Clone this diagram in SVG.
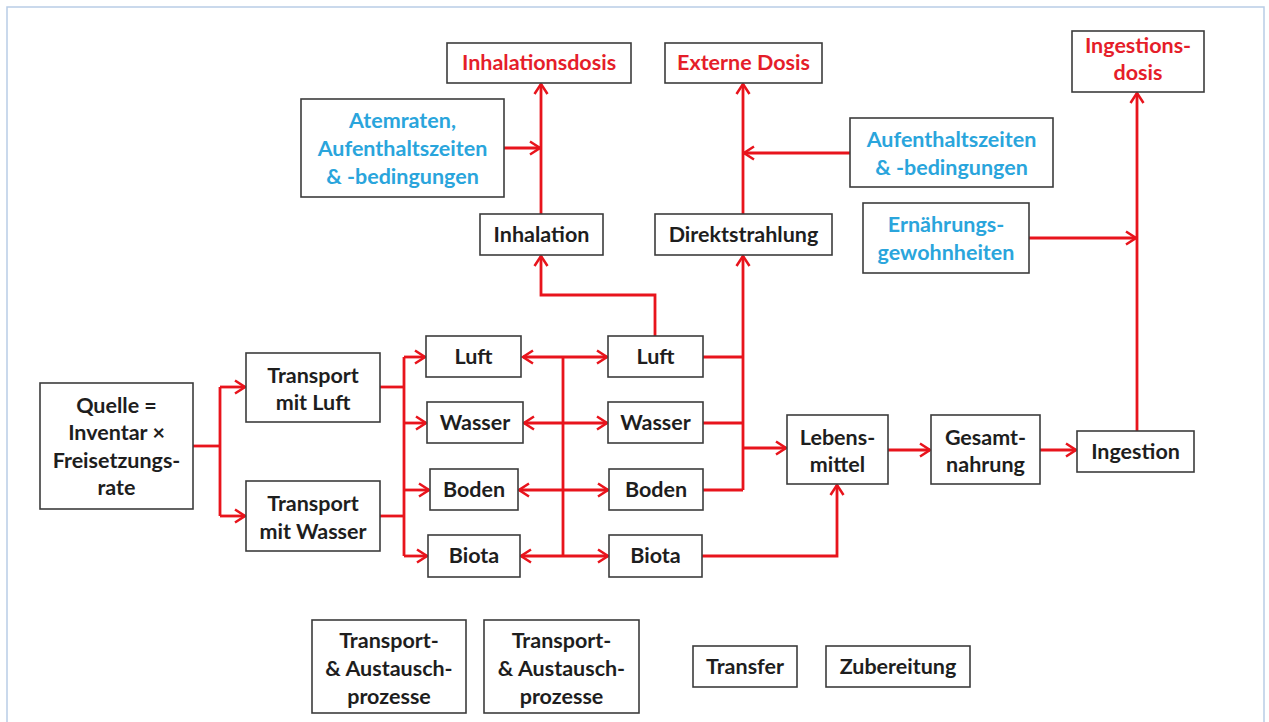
<svg xmlns="http://www.w3.org/2000/svg" width="1269" height="722" viewBox="0 0 1269 722">
<defs>
<marker id="ah" markerUnits="userSpaceOnUse" viewBox="-12 -8 14 16" refX="0" refY="0" markerWidth="14" markerHeight="16" orient="auto">
<path d="M-10,-6.5 L0,0 L-10,6.5" fill="none" stroke="#e8141c" stroke-width="2.5" stroke-linejoin="miter"/>
</marker>
</defs>
<style>
.box{fill:#fff;stroke:#3c3c3c;stroke-width:1.6}
.t{font-family:Lato,"Liberation Sans",sans-serif;font-weight:bold;font-size:21.5px;text-anchor:middle;fill:#1e1e1e}
.red{fill:#e51e2a}
.blue{fill:#2aa5dc}
.c{fill:none;stroke:#e8141c;stroke-width:2.8}
.a{marker-end:url(#ah)}
</style>
<rect x="0" y="0" width="1269" height="722" fill="#fff"/>
<rect x="7" y="7" width="1257" height="730" fill="none" stroke="#b9cde6" stroke-width="1.5"/>

<g id="connectors">
<path class="c" d="M193,446 H220" stroke-width="3.4"/>
<path class="c" d="M220,387 V516"/>
<path class="c a" d="M220,387 H245"/>
<path class="c a" d="M220,516 H245"/>
<path class="c" d="M380,387 H404"/>
<path class="c" d="M380,516 H404"/>
<path class="c" d="M404,357 V556"/>
<path class="c a" d="M404,357 H425"/>
<path class="c a" d="M404,423 H426"/>
<path class="c a" d="M404,490 H429"/>
<path class="c a" d="M404,556 H427"/>
<path class="c" d="M563,357 V556"/>
<path class="c a" d="M563,357 H523"/>
<path class="c a" d="M563,357 H607"/>
<path class="c a" d="M563,423 H524"/>
<path class="c a" d="M563,423 H607"/>
<path class="c a" d="M563,490 H519" stroke-width="3.4"/>
<path class="c a" d="M563,490 H608"/>
<path class="c a" d="M563,556 H521"/>
<path class="c a" d="M563,556 H608"/>
<path class="c" d="M703,357 H743"/>
<path class="c" d="M703,423 H743"/>
<path class="c" d="M703,490 H743" stroke-width="3.2"/>
<path class="c a" d="M743,490 V256"/>
<path class="c a" d="M743,448 H786" stroke-width="3.2"/>
<path class="c a" d="M655,336 V295 H541 V256"/>
<path class="c a" d="M541,214 V84"/>
<path class="c a" d="M504,148 H540"/>
<path class="c a" d="M743,214 V84"/>
<path class="c a" d="M850,153 H744"/>
<path class="c a" d="M702,556 H837 V485"/>
<path class="c a" d="M888,450 H930" stroke-width="3.2"/>
<path class="c a" d="M1040,450 H1076"/>
<path class="c a" d="M1137,431 V93"/>
<path class="c a" d="M1029,238 H1136"/>
</g>

<g id="quelle"><rect class="box" x="40" y="383" width="153" height="126"/>
<text class="t" x="116.5" y="413">Quelle =</text><text class="t" x="116.5" y="440">Inventar ×</text><text class="t" x="116.5" y="468">Freisetzungs-</text><text class="t" x="116.5" y="495">rate</text></g>
<g id="transport-luft"><rect class="box" x="246" y="353" width="134" height="69"/>
<text class="t" x="313" y="383">Transport</text><text class="t" x="313" y="410">mit Luft</text></g>
<g id="transport-wasser"><rect class="box" x="246" y="481" width="134" height="70"/>
<text class="t" x="313" y="511">Transport</text><text class="t" x="313" y="539">mit Wasser</text></g>

<g id="luft1"><rect class="box" x="426" y="336" width="95" height="41"/><text class="t" x="473.5" y="364">Luft</text></g>
<g id="wasser1"><rect class="box" x="427" y="402" width="96" height="41"/><text class="t" x="475" y="430">Wasser</text></g>
<g id="boden1"><rect class="box" x="430" y="469" width="88" height="41"/><text class="t" x="474" y="497">Boden</text></g>
<g id="biota1"><rect class="box" x="428" y="535" width="92" height="42"/><text class="t" x="474" y="563">Biota</text></g>

<g id="luft2"><rect class="box" x="608" y="336" width="95" height="41"/><text class="t" x="655.5" y="364">Luft</text></g>
<g id="wasser2"><rect class="box" x="608" y="402" width="95" height="41"/><text class="t" x="655.5" y="430">Wasser</text></g>
<g id="boden2"><rect class="box" x="609" y="469" width="94" height="41"/><text class="t" x="656" y="497">Boden</text></g>
<g id="biota2"><rect class="box" x="609" y="535" width="93" height="42"/><text class="t" x="655.5" y="563">Biota</text></g>

<g id="lebensmittel"><rect class="box" x="787" y="415" width="101" height="69"/>
<text class="t" x="837.5" y="445">Lebens-</text><text class="t" x="837.5" y="472">mittel</text></g>
<g id="gesamtnahrung"><rect class="box" x="931" y="415" width="109" height="69"/>
<text class="t" x="985.5" y="445">Gesamt-</text><text class="t" x="985.5" y="472">nahrung</text></g>
<g id="ingestion"><rect class="box" x="1077" y="431" width="117" height="41"/><text class="t" x="1135.5" y="459">Ingestion</text></g>

<g id="inhalation"><rect class="box" x="480" y="214" width="123" height="41"/><text class="t" x="541.5" y="242">Inhalation</text></g>
<g id="direktstrahlung"><rect class="box" x="655" y="214" width="177" height="41"/><text class="t" x="743.5" y="242">Direktstrahlung</text></g>

<g id="inhalationsdosis"><rect class="box" x="447" y="43" width="184" height="40"/><text class="t red" x="539" y="70">Inhalationsdosis</text></g>
<g id="externe-dosis"><rect class="box" x="665" y="43" width="157" height="40"/><text class="t red" x="743.5" y="70">Externe Dosis</text></g>
<g id="ingestionsdosis"><rect class="box" x="1072" y="31" width="132" height="61"/>
<text class="t red" x="1138" y="53">Ingestions-</text><text class="t red" x="1138" y="80">dosis</text></g>

<g id="atemraten"><rect class="box" x="301" y="99" width="203" height="98"/>
<text class="t blue" x="402.5" y="128">Atemraten,</text><text class="t blue" x="402.5" y="156">Aufenthaltszeiten</text><text class="t blue" x="402.5" y="184">&amp; -bedingungen</text></g>
<g id="aufenthalt"><rect class="box" x="850" y="118" width="203" height="69"/>
<text class="t blue" x="951.5" y="147">Aufenthaltszeiten</text><text class="t blue" x="951.5" y="175">&amp; -bedingungen</text></g>
<g id="ernaehrung"><rect class="box" x="863" y="203" width="166" height="70"/>
<text class="t blue" x="946" y="232">Ernährungs-</text><text class="t blue" x="946" y="260">gewohnheiten</text></g>

<g id="legend-1"><rect class="box" x="312" y="620" width="154" height="93"/>
<text class="t" x="389" y="648">Transport-</text><text class="t" x="389" y="676">&amp; Austausch-</text><text class="t" x="389" y="704">prozesse</text></g>
<g id="legend-2"><rect class="box" x="484" y="620" width="155" height="93"/>
<text class="t" x="561.5" y="648">Transport-</text><text class="t" x="561.5" y="676">&amp; Austausch-</text><text class="t" x="561.5" y="704">prozesse</text></g>
<g id="legend-3"><rect class="box" x="693" y="646" width="104" height="41"/><text class="t" x="745" y="674">Transfer</text></g>
<g id="legend-4"><rect class="box" x="826" y="646" width="144" height="41"/><text class="t" x="898" y="674">Zubereitung</text></g>
</svg>
